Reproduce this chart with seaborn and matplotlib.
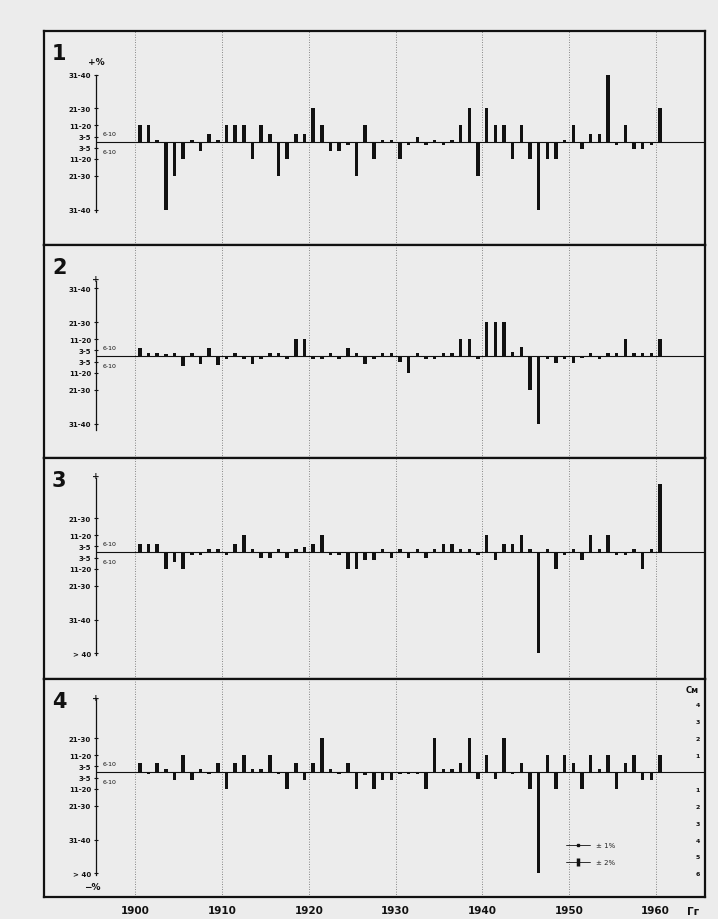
import numpy as np
import pandas as pd
import seaborn as sns
from matplotlib import pyplot as plt
from matplotlib.lines import Line2D

# ========================================================
# data: one bar per year, heights in the chart's own units
# (11-20 % class = 1, 21-30 = 2, 31-40 = 4, >40 = 6; 3-5 ~ 0.33, 6-10 ~ 0.5, dots 0-2 ~ 0.15)

years = list(range(1900, 1961))

panel1 = [1, 1, 0.15, -4, -2, -1, 0.15, -0.5, 0.45, 0.15,
          1, 1, 1, -1, 1, 0.45, -2, -1, 0.45, 0.45,
          2, 1, -0.5, -0.5, -0.15, -2, 1, -1, 0.15, 0.15,
          -1, -0.15, 0.33, -0.15, 0.15, -0.15, 0.15, 1, 2, -2,
          2, 1, 1, -1, 1, -1, -4, -1, -1, 0.15,
          1, -0.4, 0.5, 0.5, 4, -0.15, 1, -0.4, -0.4, -0.15,
          2]

panel2 = [0.45, 0.15, 0.15, 0.1, 0.15, -0.6, 0.2, -0.5, 0.45, -0.55,
          -0.2, 0.15, -0.15, -0.5, -0.15, 0.15, 0.15, -0.15, 1, 1,
          -0.15, -0.15, 0.15, -0.15, 0.45, 0.15, -0.5, -0.15, 0.15, 0.15,
          -0.35, -1, 0.15, -0.15, -0.15, 0.15, 0.15, 1, 1, -0.15,
          2, 2, 2, 0.25, 0.55, -2, -4, -0.15, -0.4, -0.15,
          -0.4, -0.1, 0.2, -0.15, 0.2, 0.2, 1, 0.15, 0.2, 0.2,
          1]

panel3 = [0.5, 0.5, 0.5, -1, -0.6, -1, -0.15, -0.15, 0.15, 0.15,
          -0.2, 0.5, 1, 0.15, -0.35, -0.35, 0.15, -0.35, 0.15, 0.3,
          0.5, 1, -0.15, -0.15, -1, -1, -0.45, -0.45, 0.15, -0.35,
          0.15, -0.35, 0.15, -0.35, 0.15, 0.5, 0.5, 0.15, 0.15, -0.15,
          1, -0.5, 0.5, 0.5, 1, 0.15, -6, 0.2, -1, -0.15,
          0.15, -0.5, 1, 0.2, 1, -0.2, -0.2, 0.2, -1, 0.2,
          4]

panel4 = [0.5, -0.15, 0.5, 0.15, -0.5, 1, -0.5, 0.2, -0.15, 0.5,
          -1, 0.5, 1, 0.2, 0.15, 1, -0.15, -1, 0.5, -0.5,
          0.5, 2, 0.15, -0.15, 0.5, -1, -0.2, -1, -0.45, -0.45,
          -0.15, -0.15, -0.15, -1, 2, 0.15, 0.15, 0.55, 2, -0.4,
          1, -0.4, 2, -0.15, 0.55, -1, -6, 1, -1, 1,
          0.55, -1, 1, 0.2, 1, -1, 0.5, 1, -0.5, -0.5,
          1]

ticks_a = [4, 2, 1, 0.33, -0.33, -1, -2, -4]
labels_a = ["31-40", "21-30", "11-20", "3-5", "3-5", "11-20", "21-30", "31-40"]
ticks_b = [2, 1, 0.33, -0.33, -1, -2, -4, -6]
labels_b = ["21-30", "11-20", "3-5", "3-5", "11-20", "21-30", "31-40", "> 40"]
decades = list(range(1900, 1961, 10))
cm_ticks = [4, 3, 2, 1, -1, -2, -3, -4, -5, -6]
cm_labels = ["4", "3", "2", "1", "1", "2", "3", "4", "5", "6"]

# ========================================================
sns.set_theme(style="white")
plt.rcParams["font.family"] = ["DejaVu Sans"]

paper = "#ececec"
ink = "#111111"
axis_x = 1895.45          # where the little class axis stands
axis_frac = 0.0787

panels = [
    # values, ticks, labels, rect bottom/height, ylim, spine bounds, top mark
    (panel1, ticks_a, labels_a, 0.7326, 0.2329, (-6.09, 6.59), (-4.15, 4.0), "+%", 4.75),
    (panel2, ticks_a, labels_a, 0.5011, 0.2315, (-6.04, 6.57), (-4.4, 4.45), "+", 4.6),
    (panel3, ticks_b, labels_b, 0.2609, 0.2402, (-7.51, 5.56), (-6.1, 4.4), "+", 4.5),
    (panel4, ticks_b, labels_b, 0.0239, 0.2370, (-7.40, 5.50), (-6.1, 4.4), "+", 4.4),
]

fig = plt.figure(figsize=(7.18, 9.2), dpi=100, facecolor=paper)

for i, (vals, ticks, labels, bottom, height, ylim, bounds, topmark, topy) in enumerate(panels):
    ax = fig.add_axes([0.0613, bottom, 0.9206, height])
    ax.set_facecolor(paper)

    df = pd.DataFrame({"year": np.array(years) + 0.5, "value": vals})
    sns.barplot(data=df, x="year", y="value", native_scale=True, orient="x",
                color=ink, saturation=1, width=0.4, errorbar=None,
                linewidth=0, ax=ax)

    ax.set_xlim(1889.45, 1965.69)
    ax.set_ylim(*ylim)
    ax.set_xlabel("")
    ax.set_ylabel("")
    ax.set_yticks([])
    ax.set_xticks(decades)
    ax.grid(axis="x", linestyle=(0, (1, 2)), color="#666666", lw=0.6)
    ax.grid(axis="y", visible=False)
    ax.axhline(0, xmin=axis_frac, xmax=1, color=ink, lw=0.8)
    for s in ax.spines.values():
        s.set_linewidth(1.6)
        s.set_color(ink)

    # class axis inside the panel
    sec = ax.secondary_yaxis(axis_frac)
    sec.set_ticks(ticks, labels=labels, fontsize=5, fontweight="bold")
    sec.tick_params(direction="inout", length=3, width=0.8, pad=2, colors=ink)
    sec.spines["left"].set_bounds(*bounds)
    sec.spines["left"].set_linewidth(0.9)
    sec.spines["left"].set_color(ink)
    ax.text(axis_x, topy, topmark, ha="center", va="center",
            fontsize=6.5, fontweight="bold", color=ink)
    ax.text(axis_x + 0.8, 0.5, "6-10", ha="left", va="center", fontsize=4.5, color=ink)
    ax.text(axis_x + 0.8, -0.55, "6-10", ha="left", va="center", fontsize=4.5, color=ink)

    ax.text(0.012, 0.945, str(i + 1), transform=ax.transAxes, ha="left", va="top",
            fontsize=15, fontweight="bold", color=ink)

    if i < 3:
        ax.tick_params(axis="x", length=0, labelbottom=False)
    else:
        ax.set_xticks(decades, labels=[str(d) for d in decades],
                      fontsize=7.5, fontweight="bold")
        ax.tick_params(axis="x", length=0, pad=6, colors=ink)
        ax.text(1963.6, -0.064, "Гг", transform=ax.get_xaxis_transform(),
                ha="left", va="center", fontsize=7.5, fontweight="bold", color=ink)
        ax.text(axis_x - 0.4, -6.75, "−%", ha="center", va="center",
                fontsize=6.5, fontweight="bold", color=ink)

        # centimetre scale on the right
        right = ax.secondary_yaxis("right")
        right.set_ticks(cm_ticks, labels=cm_labels, fontsize=4.5, fontweight="bold")
        right.tick_params(length=0, pad=-7, colors=ink)
        right.spines["right"].set_visible(False)
        ax.text(0.99, 4.9, "См", transform=ax.get_yaxis_transform(), ha="right",
                va="center", fontsize=6, fontweight="bold", color=ink)

        handles = [
            Line2D([], [], color=ink, lw=0.6, marker="s", markersize=2),
            Line2D([], [], color=ink, lw=0.6, marker="|", markersize=6, markeredgewidth=2.5),
        ]
        ax.legend(handles, ["± 1%", "± 2%"], loc="upper left", bbox_to_anchor=(0.78, 0.28),
                  frameon=False, fontsize=5, handlelength=3.5, labelspacing=1.6)

plt.savefig("out.png", dpi=100, facecolor=paper)
